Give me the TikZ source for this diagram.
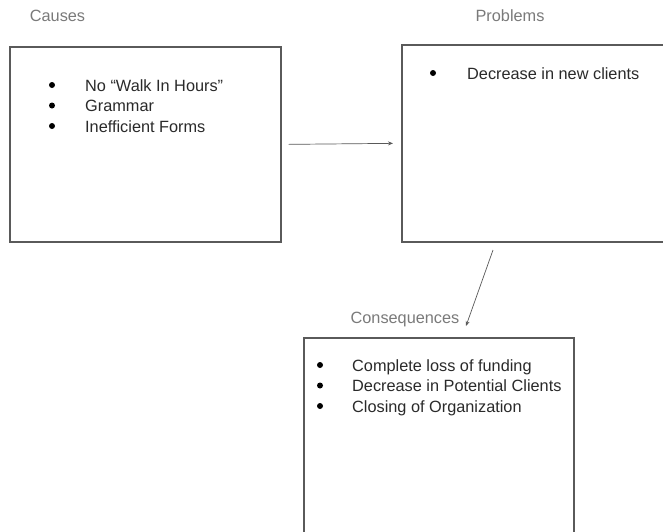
\documentclass[tikz,border=0pt]{standalone}
\usepackage{fontspec}
\setmainfont{Liberation Sans}
\usetikzlibrary{arrows.meta}
\definecolor{boxline}{HTML}{5A5A5A}
\definecolor{hdr}{HTML}{7A7A7A}
\definecolor{txt}{HTML}{2A2A2A}
\tikzset{
  panel/.style={draw=boxline, line width=1.7pt, fill=white, rectangle, inner sep=0pt, anchor=north west},
  header/.style={font=\fontsize{16.3}{20}\selectfont, text=hdr, inner sep=0pt, anchor=base},
  item/.style={font=\fontsize{16.3}{20}\selectfont, text=txt, inner sep=0pt, anchor=base west},
  dot/.style={fill=black},
  link/.style={draw=black!65, line width=0.7pt, -{Stealth[length=5pt,width=4pt]}}
}
\begin{document}
\begin{tikzpicture}[x=1pt,y=-1pt]
\useasboundingbox (0,0) rectangle (663,531);
\clip (0,0) rectangle (663,531);
\fill[white] (0,0) rectangle (663,531);

% boxes
\node[panel, minimum width=271pt, minimum height=195pt] (b1) at (9,46) {};
\node[panel, minimum width=300pt, minimum height=197pt] (b2) at (401,44) {};
\node[panel, minimum width=270pt, minimum height=250pt] (b3) at (303,337) {};

% headers
\node[header] (hcauses) at (57.5,21) {Causes};
\node[header] (hprob) at (510,21) {Problems};
\node[header] (hcons) at (405,323) {Consequences};

% causes list
\fill[dot] (52,85) circle (3);
\fill[dot] (52,105.5) circle (3);
\fill[dot] (52,126) circle (3);
\node[item] (c1) at (85,91) {No “Walk In Hours”};
\node[item] (c2) at (85,111.5) {Grammar};
\node[item] (c3) at (85,132) {Inefficient Forms};

% problems list
\fill[dot] (433,73) circle (3);
\node[item] (p1) at (467,79) {Decrease in new clients};

% consequences list
\fill[dot] (320,365) circle (3);
\fill[dot] (320,385.5) circle (3);
\fill[dot] (320,406) circle (3);
\node[item] (q1) at (352,371) {Complete loss of funding};
\node[item] (q2) at (352,391.5) {Decrease in Potential Clients};
\node[item] (q3) at (352,412) {Closing of Organization};

% connectors
\draw[link] ([xshift=7pt]b1.east) -- ([xshift=-8pt]b2.west);
\coordinate (s2) at (493,250);
\coordinate (e2) at (466,326);
\draw[link] (s2) -- (e2);
\end{tikzpicture}
\end{document}
